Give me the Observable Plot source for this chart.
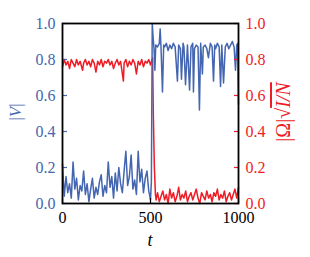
<!DOCTYPE html>
<html><head><meta charset="utf-8">
<script src="https://cdn.jsdelivr.net/npm/d3@7"></script>
<script src="https://cdn.jsdelivr.net/npm/@observablehq/plot@0.6"></script>
<style>body{margin:0;background:#fff}svg{display:block}</style>
</head><body><div id="chart"></div>
<script>
// |V| (blue, left axis)
const tBlue = [0,10,20,30,40,50,60,70,80,90,100,110,120,130,140,150,160,170,180,190,200,210,220,230,240,250,260,270,280,290,300,310,320,330,340,350,360,370,380,390,400,410,420,430,440,450,460,470,480,490,500,505,510,515,520,525,530,540,550,555,560,568,575,580,590,600,610,620,630,640,653,660,670,676,685,690,699,710,722,730,740,744,750,760,770,778,785,795,800,810,820,829,840,850,858,865,870,880,890,898,905,915,925,935,945,955,965,975,983,990,995,1000];
const vBlue = [0.22,0.04,0.15,0.06,0.11,0.03,0.23,0.08,0.14,0.02,0.10,0.07,0.18,0.05,0.11,0.01,0.08,0.14,0.03,0.09,0.05,0.12,0.16,0.04,0.10,0.06,0.23,0.09,0.15,0.03,0.17,0.07,0.20,0.11,0.06,0.18,0.29,0.10,0.15,0.27,0.08,0.13,0.05,0.29,0.12,0.19,0.06,0.14,0.18,0.07,0.02,0.12,1.00,0.92,0.86,0.74,0.88,0.87,0.89,0.97,0.86,0.62,0.88,0.87,0.89,0.85,0.88,0.86,0.89,0.87,0.68,0.88,0.86,0.69,0.89,0.87,0.66,0.88,0.63,0.87,0.89,0.62,0.86,0.88,0.87,0.52,0.89,0.72,0.87,0.88,0.86,0.81,0.89,0.87,0.68,0.88,0.86,0.89,0.87,0.65,0.88,0.67,0.87,0.89,0.86,0.88,0.90,0.87,0.74,0.88,0.89,0.55];
// |Ω|√(I/N) (red, right axis)
const tRed = [0,10,20,30,40,50,60,70,80,90,100,114,120,130,140,150,160,170,180,190,200,210,220,230,240,250,260,270,280,290,300,310,320,330,346,350,360,370,380,390,400,410,420,430,440,450,460,470,480,490,500,506,512,516,522,528,532,540,550,560,570,580,590,600,610,620,630,640,650,660,670,680,690,700,710,720,730,740,750,760,770,780,790,800,810,820,830,840,850,860,870,880,890,900,910,920,930,940,950,960,970,980,990,1000];
const vRed = [0.76,0.80,0.77,0.79,0.75,0.80,0.78,0.76,0.80,0.77,0.79,0.74,0.78,0.80,0.77,0.79,0.76,0.80,0.78,0.73,0.79,0.77,0.80,0.76,0.79,0.78,0.80,0.77,0.79,0.75,0.78,0.80,0.77,0.79,0.68,0.78,0.80,0.76,0.79,0.77,0.80,0.78,0.72,0.79,0.77,0.80,0.76,0.79,0.78,0.80,0.77,0.79,0.81,0.50,0.20,0.05,0.02,0.06,0.01,0.04,0.07,0.02,0.05,0.00,0.08,0.03,0.06,0.01,0.04,0.09,0.02,0.05,0.03,0.07,0.01,0.04,0.06,0.02,0.05,0.08,0.03,0.00,0.06,0.04,0.02,0.07,0.03,0.05,0.01,0.06,0.04,0.08,0.02,0.05,0.03,0.07,0.01,0.04,0.06,0.02,0.05,0.08,0.03,0.09];
const yTicks = [0, 0.2, 0.4, 0.6, 0.8, 1.0];
const xTicks = [0, 500, 1000];

const blue = "#4466b0", red = "#ee1c25";
const font = "'Liberation Serif', 'DejaVu Serif', serif";
const blueData = tBlue.map((t, i) => ({t, v: vBlue[i]}));
const redData = tRed.map((t, i) => ({t, v: vRed[i]}));
const fmt = d3.format(".1f");

const chart = Plot.plot({
  width: 310, height: 257,
  marginLeft: 62, marginRight: 72, marginTop: 23, marginBottom: 54,
  style: {background: "#fff", overflow: "visible"},
  x: {domain: [0, 1000]},
  y: {domain: [0, 1]},
  marks: [
    Plot.line(redData, {x: "t", y: "v", stroke: red, strokeWidth: 1.5}),
    Plot.line(blueData, {x: "t", y: "v", stroke: blue, strokeWidth: 1.5}),
    Plot.axisY(yTicks, {anchor: "left", tickSize: 0, tickPadding: 7, tickFormat: fmt, fill: blue, label: null}),
    Plot.axisY(yTicks, {anchor: "left", tickSize: -5, text: null, stroke: blue, strokeWidth: 1.2, label: null}),
    Plot.axisY(yTicks, {anchor: "right", tickSize: 0, tickPadding: 7, tickFormat: fmt, fill: red, label: null}),
    Plot.axisY(yTicks, {anchor: "right", tickSize: -5, text: null, stroke: red, strokeWidth: 1.2, label: null}),
    Plot.axisX(xTicks, {anchor: "bottom", tickSize: 0, tickPadding: 8, tickFormat: d => String(d), fill: "black", label: null}),
    Plot.axisX(xTicks, {anchor: "bottom", tickSize: -5, text: null, stroke: "black", strokeWidth: 1.2, label: null}),
    Plot.frame({stroke: "black", strokeWidth: 1.8})
  ]
});

const svg = d3.select(chart);
svg.selectAll("text").style("font-family", font).style("font-size", "16px");

const vl = svg.append("text").attr("transform", "translate(21,112) rotate(-90)")
  .attr("text-anchor", "middle").attr("fill", blue)
  .style("font-family", font).style("font-size", "17px");
vl.append("tspan").text("|");
vl.append("tspan").style("font-style", "italic").text("V");
vl.append("tspan").text("|");

const rl = svg.append("text").attr("transform", "translate(290,112) rotate(-90)")
  .attr("text-anchor", "middle").attr("fill", red)
  .style("font-family", font).style("font-size", "20px");
rl.append("tspan").text("|Ω|√");
rl.append("tspan").style("text-decoration", "overline").style("font-style", "italic").text("I/N");

svg.append("text").attr("x", 150).attr("y", 246)
  .attr("text-anchor", "middle").attr("fill", "black")
  .style("font-family", font).style("font-size", "18px").style("font-style", "italic")
  .text("t");

document.getElementById("chart").appendChild(chart);
</script>
</body></html>
